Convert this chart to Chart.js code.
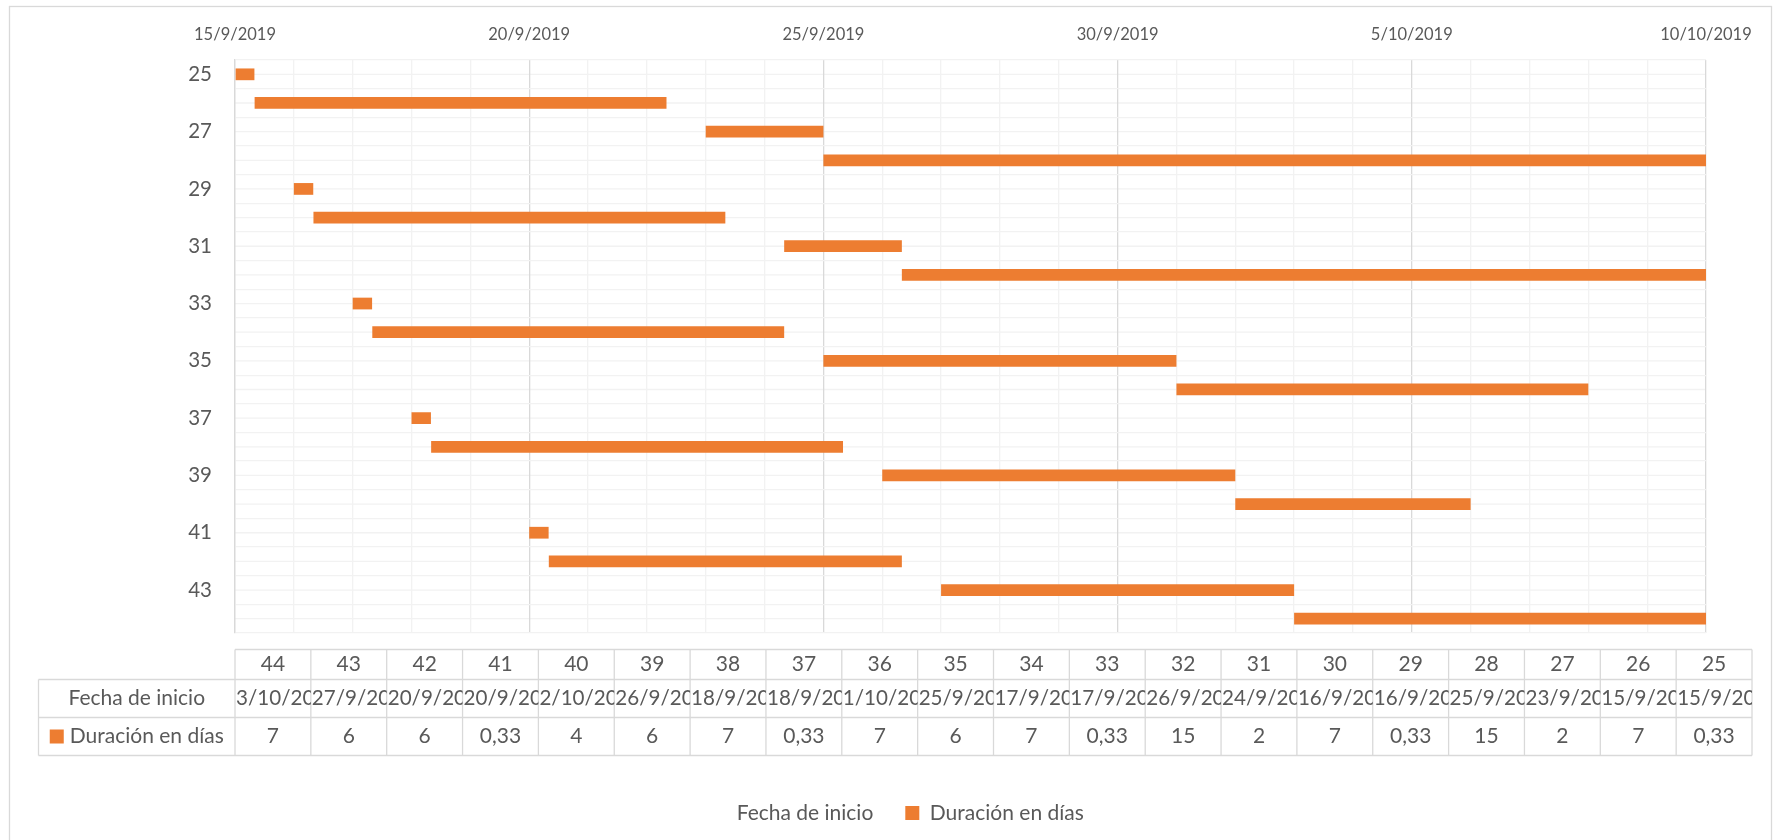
<!DOCTYPE html>
<html>
<head>
<meta charset="utf-8">
<title>Diagrama de Gantt</title>
<script src="https://cdn.jsdelivr.net/npm/chart.js@4/dist/chart.umd.min.js"></script>
<style>
  html, body { margin: 0; padding: 0; background: #ffffff; }
  #wrap { position: relative; width: 1780px; height: 840px; }
</style>
</head>
<body>
<div id="wrap"><canvas id="gantt" width="1780" height="840"></canvas></div>
<script>
// Tasks (category labels), their start date/time and duration in days
const categories = ['25','26','27','28','29','30','31','32','33','34',
                    '35','36','37','38','39','40','41','42','43','44'];
const startDates = [
  '2019-09-15 00:00', '2019-09-15 08:00', '2019-09-23 00:00', '2019-09-25 00:00',
  '2019-09-16 00:00', '2019-09-16 08:00', '2019-09-24 08:00', '2019-09-26 08:00',
  '2019-09-17 00:00', '2019-09-17 08:00', '2019-09-25 00:00', '2019-10-01 00:00',
  '2019-09-18 00:00', '2019-09-18 08:00', '2019-09-26 00:00', '2019-10-02 00:00',
  '2019-09-20 00:00', '2019-09-20 08:00', '2019-09-27 00:00', '2019-10-03 00:00'
];
const durations = [0.33, 7, 2, 15, 0.33, 7, 2, 15, 0.33, 7,
                   6, 7, 0.33, 7, 6, 4, 0.33, 6, 6, 7];

// Time axis range and label interval (days)
const axisStart = '2019-09-15 00:00';
const axisEnd = '2019-10-10 00:00';
const labelEvery = 5;

const seriesNames = ['Fecha de inicio', 'Duración en días'];

const ORANGE = '#ED7D31';
const TEXT = '#595959';
const GRID_MINOR = '#F2F2F2';
const GRID_MAJOR = '#D9D9D9';
const FONT = 'Lato';
const DAY = 86400000;

function parseDate(s) {
  const [d, t] = s.split(' ');
  const [y, m, dd] = d.split('-').map(Number);
  const [h, mi] = (t || '00:00').split(':').map(Number);
  return Date.UTC(y, m - 1, dd, h, mi);
}
const t0 = parseDate(axisStart);
const axisMax = (parseDate(axisEnd) - t0) / DAY;
const startOffsets = startDates.map(s => (parseDate(s) - t0) / DAY);

function fmtDate(ms) {
  const d = new Date(ms);
  return d.getUTCDate() + '/' + (d.getUTCMonth() + 1) + '/' + d.getUTCFullYear();
}
function fmtNum(v) { return String(v).replace('.', ','); }

// Outer frame and the extra row lines through the middle of each category
const framePlugin = {
  id: 'frame',
  beforeDraw(chart) {
    const { ctx, chartArea: a, scales: { y } } = chart;
    ctx.save();
    ctx.strokeStyle = GRID_MAJOR;
    ctx.lineWidth = 1.3;
    ctx.strokeRect(9.5, 6.5, 1762, 900);
    ctx.strokeStyle = GRID_MINOR;
    categories.forEach((c, i) => {
      const py = y.getPixelForValue(i);
      ctx.beginPath();
      ctx.moveTo(a.left, py);
      ctx.lineTo(a.right, py);
      ctx.stroke();
    });
    ctx.restore();
  }
};

// Data table drawn below the plot, occupying its own layout box
function drawTable(chart) {
  const { ctx, chartArea: a } = chart;
  const n = categories.length;
  const top = a.bottom + 16.5;
  const rows = [top, top + 30, top + 68, top + 106];
  const left = a.left;
  const right = a.right + 46;
  const headLeft = 38.5;
  const cw = (right - left) / n;
  const cols = categories.map((_, i) => n - 1 - i);

  ctx.save();
  ctx.strokeStyle = GRID_MAJOR;
  ctx.lineWidth = 1.3;
  const line = (x1, y1, x2, y2) => { ctx.beginPath(); ctx.moveTo(x1, y1); ctx.lineTo(x2, y2); ctx.stroke(); };
  line(left, rows[0], right, rows[0]);
  for (let r = 1; r < 4; r++) line(headLeft, rows[r], right, rows[r]);
  line(headLeft, rows[1], headLeft, rows[3]);
  for (let k = 0; k <= n; k++) {
    const x = left + k * cw;
    line(x, rows[0], x, rows[3]);
  }

  ctx.fillStyle = TEXT;
  ctx.textBaseline = 'middle';

  cols.forEach((idx, k) => {
    const x0 = left + k * cw;
    ctx.font = '21px ' + FONT;
    ctx.textAlign = 'center';
    ctx.fillText(categories[idx], x0 + cw / 2, (rows[0] + rows[1]) / 2);
    ctx.fillText(fmtNum(durations[idx]), x0 + cw / 2, (rows[2] + rows[3]) / 2);
    ctx.save();
    ctx.beginPath();
    ctx.rect(x0, rows[1], cw, rows[2] - rows[1]);
    ctx.clip();
    ctx.font = '20.6px ' + FONT;
    ctx.textAlign = 'left';
    ctx.fillText(fmtDate(parseDate(startDates[idx])), x0 + 1, (rows[1] + rows[2]) / 2);
    ctx.restore();
  });

  // Row headers
  ctx.font = '21px ' + FONT;
  const hc = (headLeft + left) / 2;
  ctx.textAlign = 'center';
  ctx.fillText(seriesNames[0], hc, (rows[1] + rows[2]) / 2);
  const w = ctx.measureText(seriesNames[1]).width;
  const sq = 14, gap = 6;
  const gx = hc - (sq + gap + w) / 2;
  const cy = (rows[2] + rows[3]) / 2;
  ctx.fillStyle = ORANGE;
  ctx.fillRect(gx, cy - sq / 2, sq, sq);
  ctx.fillStyle = TEXT;
  ctx.textAlign = 'left';
  ctx.fillText(seriesNames[1], gx + sq + gap, cy);
  ctx.restore();
}

const tablePlugin = {
  id: 'dataTable',
  beforeInit(chart) {
    const box = {
      position: 'bottom',
      weight: 500,
      fullSize: false,
      options: {},
      left: 0, top: 0, right: 0, bottom: 0, width: 0, height: 0,
      isHorizontal() { return true; },
      getPadding() { return { top: 0, left: 0, right: 0, bottom: 0 }; },
      update(maxWidth) { this.width = maxWidth; this.height = 137.5; },
      draw() { drawTable(chart); }
    };
    Chart.layouts.addBox(chart, box);
  }
};

new Chart(document.getElementById('gantt'), {
  type: 'bar',
  data: {
    labels: categories,
    datasets: [
      { label: seriesNames[0], data: startOffsets, backgroundColor: 'rgba(0,0,0,0)', borderWidth: 0, clip: 0 },
      { label: seriesNames[1], data: durations, backgroundColor: ORANGE, borderWidth: 0, clip: 0 }
    ]
  },
  options: {
    indexAxis: 'y',
    responsive: false,
    animation: false,
    layout: { padding: { left: 90, right: 74, top: 0, bottom: 19.5 } },
    datasets: { bar: { categoryPercentage: 1, barPercentage: 0.41 } },
    scales: {
      x: {
        type: 'linear',
        position: 'top',
        stacked: true,
        min: 0,
        max: axisMax,
        ticks: {
          stepSize: 1,
          autoSkip: false,
          maxRotation: 0,
          padding: 15,
          color: TEXT,
          font: { family: FONT, size: 16.5 },
          callback: v => (Math.abs(v % labelEvery) < 1e-9 ? fmtDate(t0 + v * DAY) : '')
        },
        grid: {
          drawTicks: false,
          lineWidth: 1.3,
          color: c => (c.tick && Math.abs(c.tick.value % labelEvery) < 1e-9 ? GRID_MAJOR : GRID_MINOR)
        },
        border: { display: false },
        afterFit(s) { s.height = 60; }
      },
      y: {
        type: 'category',
        stacked: true,
        ticks: {
          autoSkip: false,
          padding: 23,
          color: TEXT,
          font: { family: FONT, size: 20.5 },
          callback(v, i) { return i % 2 === 0 ? this.getLabelForValue(v) : ''; }
        },
        grid: { drawTicks: false, offset: true, lineWidth: 1.3, color: GRID_MINOR },
        border: { display: true, color: GRID_MAJOR, width: 1.3 },
        afterFit(s) { s.width = 145; }
      }
    },
    plugins: {
      legend: {
        position: 'bottom',
        maxHeight: 50,
        labels: {
          boxWidth: 14,
          boxHeight: 14,
          padding: 32,
          color: TEXT,
          font: { family: FONT, size: 21 }
        }
      },
      tooltip: { enabled: false }
    }
  },
  plugins: [framePlugin, tablePlugin]
});
</script>
</body>
</html>
